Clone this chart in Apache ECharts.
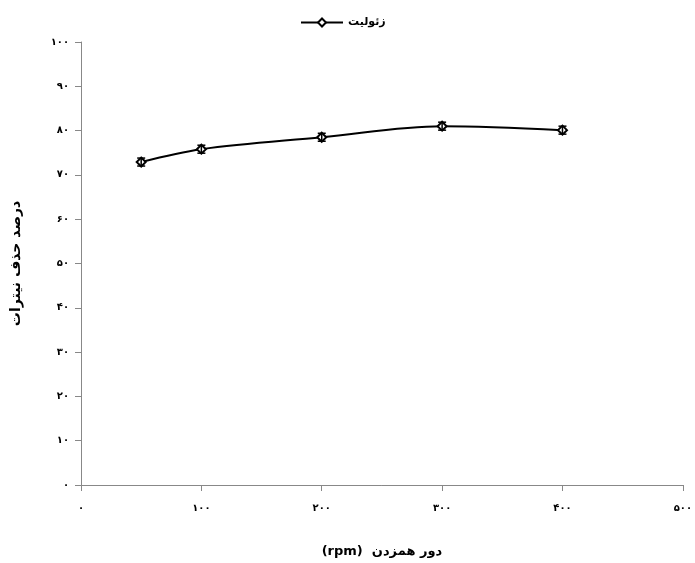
<!DOCTYPE html>
<html>
<head>
<meta charset="utf-8">
<script src="https://cdn.jsdelivr.net/npm/echarts@6/dist/echarts.min.js"></script>
<style>html,body{margin:0;padding:0;background:#fff}#c{width:695px;height:563px}</style>
</head>
<body>
<div id="c"></div>
<script>
var seriesName = 'زئولیت';
var xValues = [50, 100, 200, 300, 400];
var yValues = [72.9, 75.8, 78.5, 81.0, 80.1];
var yErrors = [0.9, 0.9, 0.9, 0.9, 0.9];
var xTickLabels = ['۰', '۱۰۰', '۲۰۰', '۳۰۰', '۴۰۰', '۵۰۰'];
var yTickLabels = ['۰', '۱۰', '۲۰', '۳۰', '۴۰', '۵۰', '۶۰', '۷۰', '۸۰', '۹۰', '۱۰۰'];
var xTitle = '(rpm)  دور همزدن';
var yTitle = 'درصد حذف نیترات';

var FONT = '"DejaVu Sans", sans-serif';
var lineData = xValues.map(function (x, i) { return [x, yValues[i]]; });
var errData = xValues.map(function (x, i) { return [x, yValues[i] - yErrors[i], yValues[i] + yErrors[i]]; });

var chart = echarts.init(document.getElementById('c'), null, { renderer: 'canvas' });
chart.setOption({
  animation: false,
  backgroundColor: '#fff',
  grid: { left: 81, right: 11, top: 42, bottom: 74 },
  legend: {
    top: 12, left: 295,
    itemWidth: 42, itemHeight: 10, itemGap: 6,
    data: [seriesName],
    textStyle: { fontFamily: FONT, fontWeight: 'bold', fontSize: 11, color: '#000' }
  },
  xAxis: {
    type: 'value', min: 0, max: 500, interval: 100,
    name: xTitle, nameLocation: 'middle', nameGap: 60,
    nameTextStyle: { fontFamily: FONT, fontWeight: 'bold', fontSize: 13, color: '#000' },
    axisLine: { lineStyle: { color: '#888', width: 1 } },
    axisTick: { show: true, length: 6, lineStyle: { color: '#888' } },
    axisLabel: {
      margin: 18, fontFamily: FONT, fontWeight: 'bold', fontSize: 10, color: '#000',
      formatter: function (v) { return xTickLabels[Math.round(v / 100)]; }
    },
    splitLine: { show: false }
  },
  yAxis: {
    type: 'value', min: 0, max: 100, interval: 10,
    name: yTitle, nameLocation: 'middle', nameGap: 58, nameRotate: 90,
    nameTextStyle: { fontFamily: FONT, fontWeight: 'bold', fontSize: 14, color: '#000' },
    axisLine: { show: true, lineStyle: { color: '#888', width: 1 } },
    axisTick: { show: true, length: 6, lineStyle: { color: '#888' } },
    axisLabel: {
      margin: 12, fontFamily: FONT, fontWeight: 'bold', fontSize: 10, color: '#000',
      formatter: function (v) { return yTickLabels[Math.round(v / 10)]; }
    },
    splitLine: { show: false }
  },
  series: [
    {
      name: seriesName, type: 'line', smooth: 0.35,
      data: lineData,
      symbol: 'emptyDiamond', symbolSize: 9,
      itemStyle: { color: '#000', borderColor: '#000', borderWidth: 1.5 },
      lineStyle: { color: '#000', width: 2 },
      z: 3
    },
    {
      name: 'err', type: 'custom',
      data: errData,
      renderItem: function (params, api) {
        var x = api.value(0);
        var lo = api.coord([x, api.value(1)]);
        var hi = api.coord([x, api.value(2)]);
        var w = 4;
        var st = { stroke: '#000', lineWidth: 1.5 };
        return {
          type: 'group',
          children: [
            { type: 'line', shape: { x1: lo[0], y1: lo[1], x2: hi[0], y2: hi[1] }, style: st },
            { type: 'line', shape: { x1: lo[0] - w, y1: lo[1], x2: lo[0] + w, y2: lo[1] }, style: st },
            { type: 'line', shape: { x1: hi[0] - w, y1: hi[1], x2: hi[0] + w, y2: hi[1] }, style: st }
          ]
        };
      },
      z: 4
    }
  ]
});
</script>
</body>
</html>
